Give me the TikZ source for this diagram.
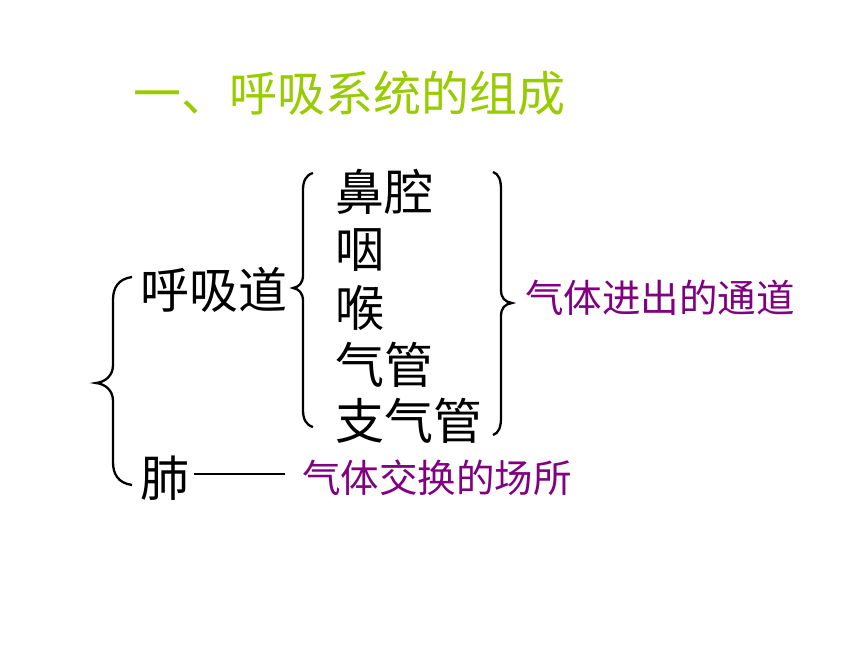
\documentclass[tikz,border=0pt]{standalone}
\usepackage{fontspec}
\newfontfamily\cjk{Noto Sans CJK SC}
\definecolor{titlegreen}{HTML}{99CC00}
\definecolor{notepurple}{HTML}{800080}
\tikzset{
  bigtxt/.style={anchor=west,inner sep=0pt,font=\cjk\fontsize{49}{52}\selectfont,text=black},
  titletxt/.style={anchor=west,inner sep=0pt,font=\cjk\fontsize{48}{52}\selectfont,text=titlegreen},
  notetxt/.style={anchor=west,inner sep=0pt,font=\cjk\fontsize{38.5}{42}\selectfont,text=notepurple},
  bracestyle/.style={line width=2.3pt,black},
}
\begin{document}
\begin{tikzpicture}[x=1pt,y=-1pt]
\useasboundingbox[fill=white] (0,0) rectangle (860,645);
\node[titletxt] (title) at (133,93) {一、呼吸系统的组成};
\node[bigtxt] (hxd) at (140,290) {呼吸道};
\node[bigtxt] (fei) at (140,478) {肺};
\node[bigtxt] (bq) at (335,192) {鼻腔};
\node[bigtxt] (yan) at (335,250) {咽};
\node[bigtxt] (hou) at (335,308) {喉};
\node[bigtxt] (qg) at (335,365) {气管};
\node[bigtxt] (zqg) at (335,421) {支气管};
\node[notetxt] (n1) at (525,298) {气体进出的通道};
\node[notetxt] (n2) at (302,478) {气体交换的场所};
\coordinate (lineend) at (285,474);
\draw[line width=1.8pt] (fei.east |- lineend) ++(5,0) coordinate (linestart) -- (lineend);
% outer brace
\draw[bracestyle] (132,277) .. controls (118,279) and (113,288) .. (113,300) -- (113,365)
  .. controls (113,376) and (105,382) .. (96,383) .. controls (105,384) and (113,390) .. (113,401)
  -- (113,462) .. controls (113,474) and (118,483) .. (132,485);
% inner left brace
\draw[bracestyle] (313,173) .. controls (306,175) and (303,181) .. (303,190) -- (303,275)
  .. controls (303,283) and (299,287) .. (293,288) .. controls (299,289) and (303,293) .. (303,301)
  -- (303,410) .. controls (303,419) and (306,425) .. (313,427);
% right brace
\draw[bracestyle] (493,172) .. controls (499,174) and (501,180) .. (501,190) -- (501,290)
  .. controls (501,298) and (505,302) .. (512,303) .. controls (505,304) and (501,308) .. (501,316)
  -- (501,417) .. controls (501,427) and (499,433) .. (493,435);
\end{tikzpicture}
\end{document}
